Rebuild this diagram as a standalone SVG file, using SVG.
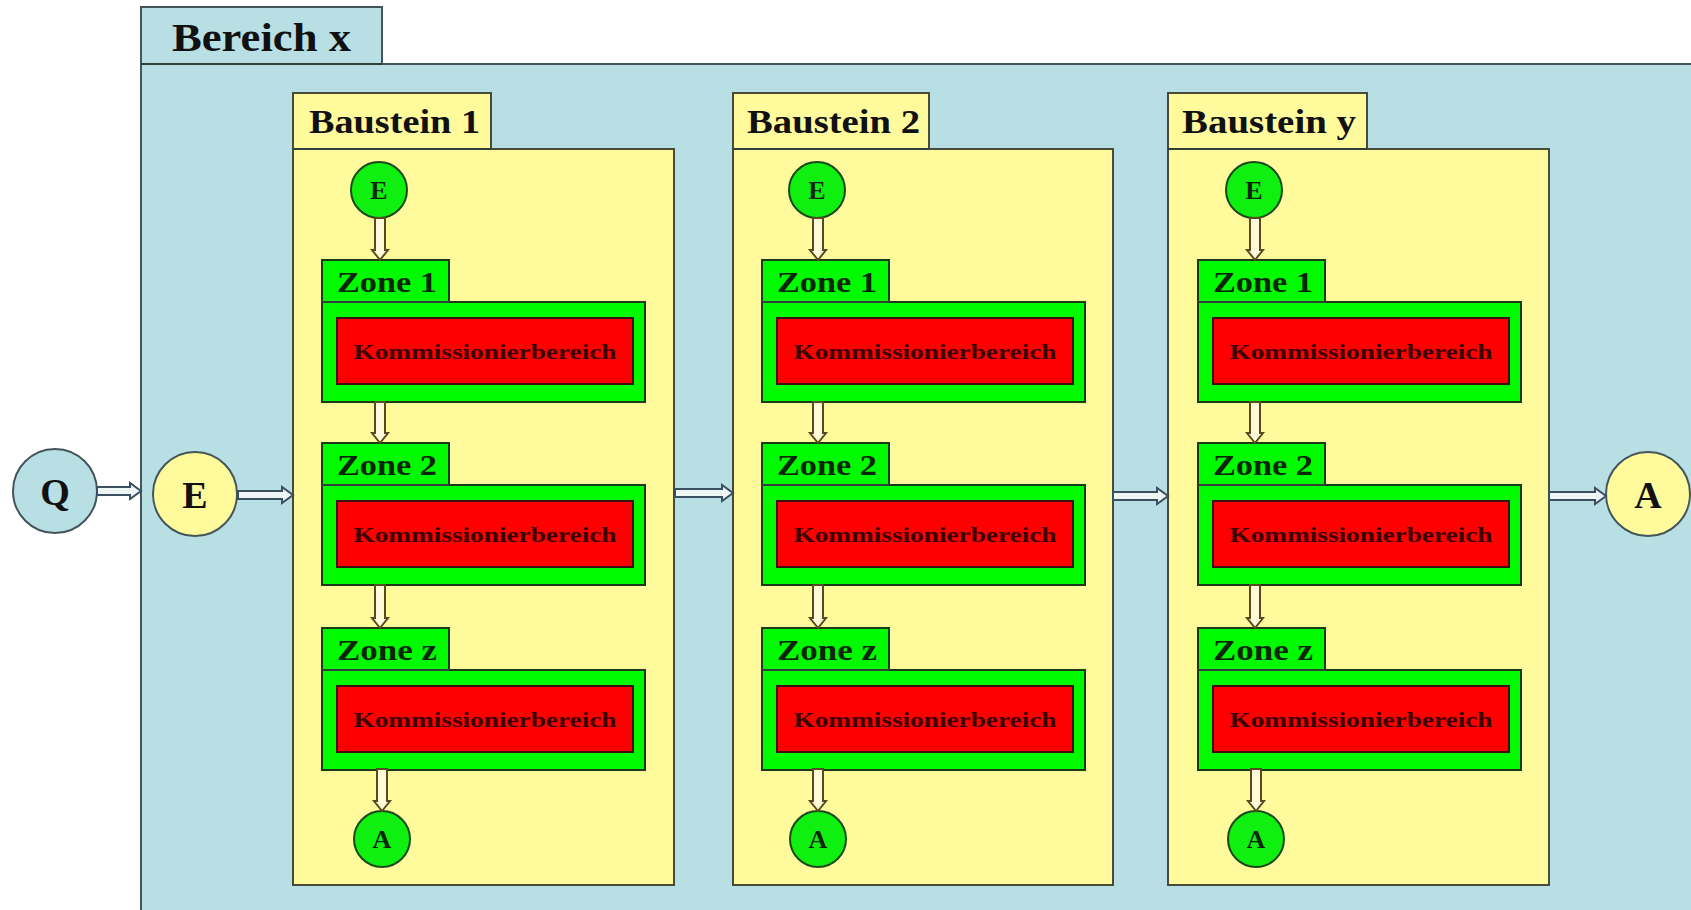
<svg xmlns="http://www.w3.org/2000/svg" width="1691" height="910" viewBox="0 0 1691 910">
<style>
.bg{fill:#ffffff}
.bereich{fill:#b8dfe4;stroke:#44555a;stroke-width:2}
.bst{fill:#fffb9c;stroke:#4a4a3a;stroke-width:2}
.zone{fill:#00fa00;stroke:#1a3a1a;stroke-width:2}
.kb{fill:#ff0000;stroke:#3a1010;stroke-width:2}
.gc{fill:#10f010;stroke:#1a4a1a;stroke-width:2}
.yc{fill:#fffb9c;stroke:#44555a;stroke-width:2}
.bc{fill:#b8dfe4;stroke:#44555a;stroke-width:2}
.sep{stroke:#33403a;stroke-width:2;fill:none}
text{font-family:"Liberation Serif","Times New Roman",serif;font-weight:bold}
.t-ber{font-size:40px;fill:#111}
.t-bst{font-size:34px;fill:#111}
.t-zone{font-size:30px;fill:#0a250a}
.t-kb{font-size:22px;fill:#3a0000}
.t-big{font-size:38px;fill:#111;text-anchor:middle}
.t-sm{font-size:26px;fill:#0a250a;text-anchor:middle}
.ha{fill:#eef6f6;stroke:#3a5060;stroke-width:2;stroke-linejoin:miter}
.va{fill:#fffbd8;stroke:#5a4a20;stroke-width:2}
</style>
<defs>
<g id="zone">
<path class="zone" d="M0,0 H127 V42 H323 V142 H0 Z"/>
<line class="sep" x1="0" y1="42" x2="127" y2="42"/>
<rect class="kb" x="15" y="58" width="296" height="66"/>
<text class="t-kb" x="163" y="99" text-anchor="middle" textLength="263" lengthAdjust="spacingAndGlyphs">Kommissionierbereich</text>
</g>
</defs>
<rect class="bg" x="0" y="0" width="1691" height="910"/>

<g id="bereich-x">
<path class="bereich" d="M141,7 H382 V64 H1700 V920 H141 Z"/>
<line class="sep" x1="141" y1="64" x2="382" y2="64"/>
<text class="t-ber" x="172" y="51" textLength="179" lengthAdjust="spacingAndGlyphs">Bereich x</text>
</g>

<g id="q-node">
<circle class="bc" cx="55" cy="491" r="42"/>
<text class="t-big" x="55" y="505">Q</text>
</g>
<g id="e-node">
<circle class="yc" cx="195" cy="494" r="42"/>
<text class="t-big" x="195" y="508">E</text>
</g>
<g id="a-node">
<circle class="yc" cx="1648" cy="494" r="42"/>
<text class="t-big" x="1648" y="508">A</text>
</g>

<g id="baustein-1" transform="translate(293,0)">
<path class="bst" d="M0,93 H198 V149 H381 V885 H0 Z"/>
<line class="sep" x1="0" y1="149" x2="198" y2="149"/>
<text class="t-bst" x="16" y="133" textLength="171" lengthAdjust="spacingAndGlyphs">Baustein 1</text>
<g id="b1-e"><circle class="gc" cx="86" cy="190" r="28"/><text class="t-sm" x="86" y="199">E</text></g>
<g id="b1-zone1" transform="translate(29,260)"><use href="#zone"/><text class="t-zone" x="15" y="32" textLength="100" lengthAdjust="spacingAndGlyphs">Zone 1</text></g>
<g id="b1-zone2" transform="translate(29,443)"><use href="#zone"/><text class="t-zone" x="15" y="32" textLength="100" lengthAdjust="spacingAndGlyphs">Zone 2</text></g>
<g id="b1-zonez" transform="translate(29,628)"><use href="#zone"/><text class="t-zone" x="15" y="32" textLength="100" lengthAdjust="spacingAndGlyphs">Zone z</text></g>
<g id="b1-a"><circle class="gc" cx="89" cy="839" r="28"/><text class="t-sm" x="89" y="848">A</text></g>
</g>

<g id="baustein-2" transform="translate(733,0)">
<path class="bst" d="M0,93 H196 V149 H380 V885 H0 Z"/>
<line class="sep" x1="0" y1="149" x2="196" y2="149"/>
<text class="t-bst" x="14" y="133" textLength="173" lengthAdjust="spacingAndGlyphs">Baustein 2</text>
<g id="b2-e"><circle class="gc" cx="84" cy="190" r="28"/><text class="t-sm" x="84" y="199">E</text></g>
<g id="b2-zone1" transform="translate(29,260)"><use href="#zone"/><text class="t-zone" x="15" y="32" textLength="100" lengthAdjust="spacingAndGlyphs">Zone 1</text></g>
<g id="b2-zone2" transform="translate(29,443)"><use href="#zone"/><text class="t-zone" x="15" y="32" textLength="100" lengthAdjust="spacingAndGlyphs">Zone 2</text></g>
<g id="b2-zonez" transform="translate(29,628)"><use href="#zone"/><text class="t-zone" x="15" y="32" textLength="100" lengthAdjust="spacingAndGlyphs">Zone z</text></g>
<g id="b2-a"><circle class="gc" cx="85" cy="839" r="28"/><text class="t-sm" x="85" y="848">A</text></g>
</g>

<g id="baustein-y" transform="translate(1168,0)">
<path class="bst" d="M0,93 H199 V149 H381 V885 H0 Z"/>
<line class="sep" x1="0" y1="149" x2="199" y2="149"/>
<text class="t-bst" x="14" y="133" textLength="174" lengthAdjust="spacingAndGlyphs">Baustein y</text>
<g id="by-e"><circle class="gc" cx="86" cy="190" r="28"/><text class="t-sm" x="86" y="199">E</text></g>
<g id="by-zone1" transform="translate(30,260)"><use href="#zone"/><text class="t-zone" x="15" y="32" textLength="100" lengthAdjust="spacingAndGlyphs">Zone 1</text></g>
<g id="by-zone2" transform="translate(30,443)"><use href="#zone"/><text class="t-zone" x="15" y="32" textLength="100" lengthAdjust="spacingAndGlyphs">Zone 2</text></g>
<g id="by-zonez" transform="translate(30,628)"><use href="#zone"/><text class="t-zone" x="15" y="32" textLength="100" lengthAdjust="spacingAndGlyphs">Zone z</text></g>
<g id="by-a"><circle class="gc" cx="88" cy="839" r="28"/><text class="t-sm" x="88" y="848">A</text></g>
</g>

<g id="connectors">
<path class="ha" d="M97,487 H130 V483 L141,491 L130,499 V495 H97 Z"/>
<path class="ha" d="M238,491 H282 V487 L293,495 L282,503 V499 H238 Z"/>
<path class="ha" d="M675,489 H722 V485 L733,493 L722,501 V497 H675 Z"/>
<path class="ha" d="M1113,492 H1157 V488 L1168,496 L1157,504 V500 H1113 Z"/>
<path class="ha" d="M1549,492 H1595 V488 L1606,496 L1595,504 V500 H1549 Z"/>

<path class="va" d="M375,218 V250 H372 L380,260 L388,250 H385 V218 Z"/>
<path class="va" d="M375,402 V433 H372 L380,443 L388,433 H385 V402 Z"/>
<path class="va" d="M375,585 V618 H372 L380,628 L388,618 H385 V585 Z"/>
<path class="va" d="M377,769 V801 H374 L382,811 L390,801 H387 V769 Z"/>

<path class="va" d="M813,218 V250 H810 L818,260 L826,250 H823 V218 Z"/>
<path class="va" d="M813,402 V433 H810 L818,443 L826,433 H823 V402 Z"/>
<path class="va" d="M813,585 V618 H810 L818,628 L826,618 H823 V585 Z"/>
<path class="va" d="M813,769 V801 H810 L818,811 L826,801 H823 V769 Z"/>

<path class="va" d="M1250,218 V250 H1247 L1255,260 L1263,250 H1260 V218 Z"/>
<path class="va" d="M1250,402 V433 H1247 L1255,443 L1263,433 H1260 V402 Z"/>
<path class="va" d="M1250,585 V618 H1247 L1255,628 L1263,618 H1260 V585 Z"/>
<path class="va" d="M1251,769 V801 H1248 L1256,811 L1264,801 H1261 V769 Z"/>
</g>
</svg>
